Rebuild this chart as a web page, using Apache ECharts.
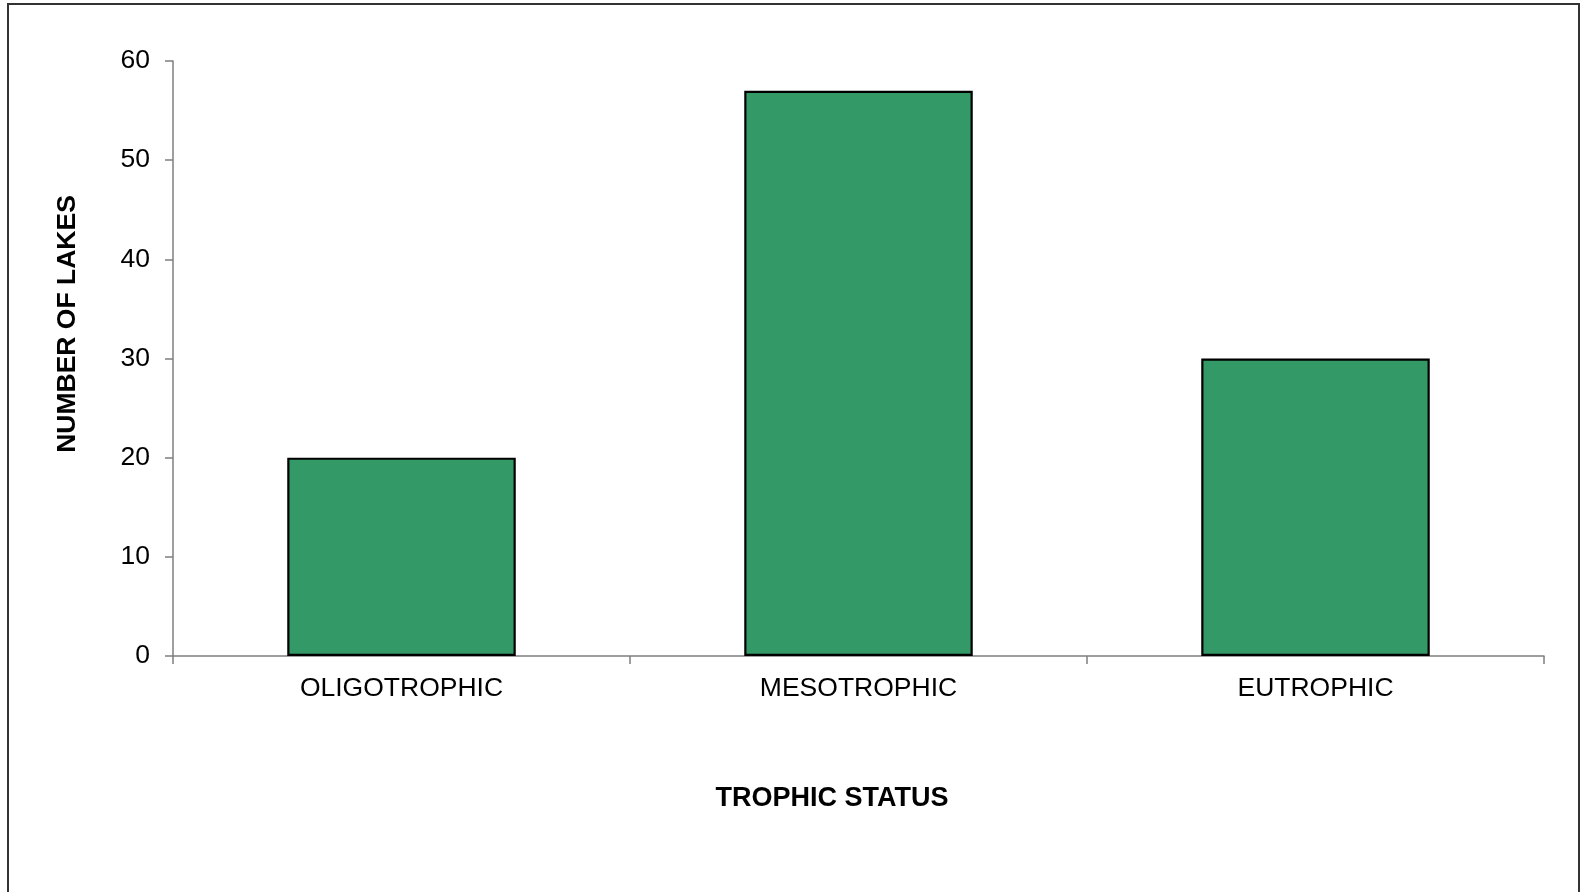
<!DOCTYPE html>
<html>
<head>
<meta charset="utf-8">
<style>
  html, body { margin: 0; padding: 0; background: #fff; }
  #chart { width: 1582px; height: 892px; }
</style>
<script src="https://cdn.jsdelivr.net/npm/echarts@6/dist/echarts.min.js"></script>
</head>
<body>
<div id="chart"></div>
<script>
  // data
  var categories = ['OLIGOTROPHIC', 'MESOTROPHIC', 'EUTROPHIC'];
  var lakeCounts = [20, 57, 30];
  var yTitle = 'NUMBER OF LAKES';
  var xTitle = 'TROPHIC STATUS';

  var chart = echarts.init(document.getElementById('chart'));
  var font = 'Liberation Sans, Arial, sans-serif';

  var option = {
    animation: false,
    backgroundColor: '#fff',
    grid: { left: 173, right: 38, top: 61, bottom: 236 },
    xAxis: {
      type: 'category',
      data: categories,
      axisLine: { lineStyle: { color: '#7f7f7f', width: 1.5 } },
      axisTick: { show: true, length: 8, lineStyle: { color: '#7f7f7f', width: 1.5 } },
      axisLabel: { color: '#000', fontSize: 26.5, fontFamily: font, margin: 19 },
      splitLine: { show: false }
    },
    yAxis: {
      type: 'value',
      min: 0,
      max: 60,
      interval: 10,
      axisLine: { show: true, lineStyle: { color: '#7f7f7f', width: 1.5 } },
      axisTick: { show: true, length: 8, lineStyle: { color: '#7f7f7f', width: 1.5 } },
      axisLabel: { color: '#000', fontSize: 26.5, fontFamily: font, margin: 23 },
      splitLine: { show: false }
    },
    series: [{
      type: 'bar',
      data: lakeCounts,
      barWidth: '50%',
      itemStyle: { color: '#339966', borderColor: '#000', borderWidth: 2.2 }
    }],
    graphic: [
      {
        type: 'rect',
        shape: { x: 8, y: 4, width: 1571, height: 900 },
        style: { fill: 'none', stroke: '#333', lineWidth: 2 },
        silent: true
      },
      {
        type: 'text',
        x: 68, y: 324,
        rotation: Math.PI / 2,
        style: { text: yTitle, fontSize: 26.5, fontWeight: 'bold', fontFamily: font, fill: '#000', align: 'center', verticalAlign: 'middle' }
      },
      {
        type: 'text',
        x: 832, y: 799,
        style: { text: xTitle, fontSize: 27, fontWeight: 'bold', fontFamily: font, fill: '#000', align: 'center', verticalAlign: 'middle' }
      }
    ]
  };
  chart.setOption(option);
</script>
</body>
</html>
